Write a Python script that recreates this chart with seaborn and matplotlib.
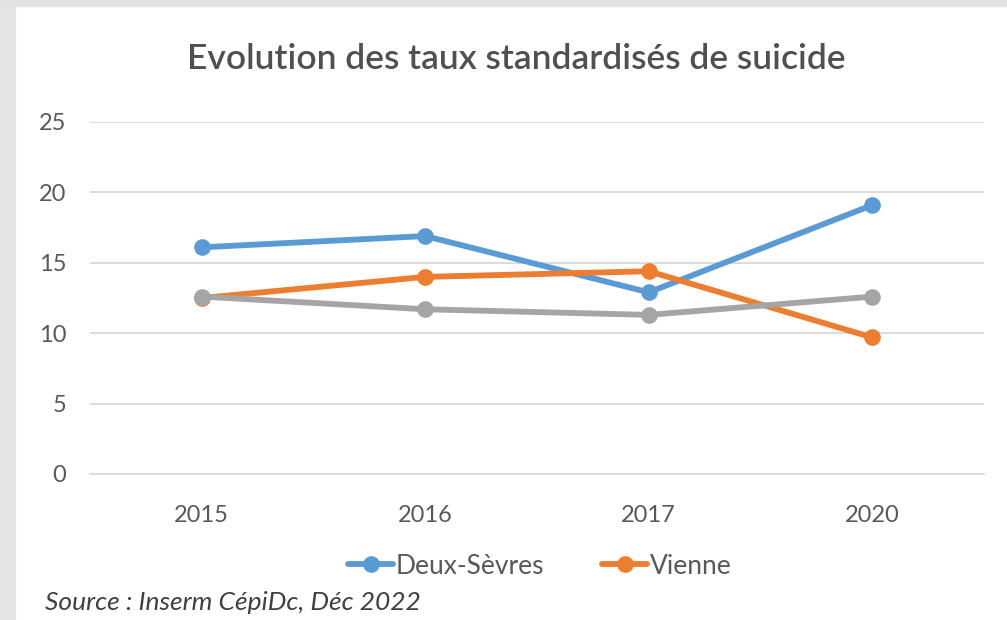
import matplotlib
matplotlib.use("Agg")
import matplotlib.pyplot as plt
import seaborn as sns
import pandas as pd
from matplotlib.lines import Line2D
from matplotlib.patches import Rectangle

years = ["2015", "2016", "2017", "2020"]
deux_sevres = [16.1, 16.9, 12.9, 19.1]
vienne = [12.5, 14.0, 14.4, 9.7]
france = [12.6, 11.7, 11.3, 12.6]
series_names = ["Deux-Sèvres", "Vienne", "France"]
colors = ["#5B9BD5", "#ED7D31", "#A5A5A5"]
yticks = [0, 5, 10, 15, 20, 25]

rows = []
for name, vals in zip(series_names, [deux_sevres, vienne, france]):
    for i, (y, v) in enumerate(zip(years, vals)):
        rows.append({"pos": i, "year": y, "value": v, "series": name})
df = pd.DataFrame(rows)

sns.set_theme(style="white")
plt.rcParams["font.family"] = ["Lato", "DejaVu Sans"]

fig = plt.figure(figsize=(10.07, 6.2), dpi=100)
fig.patch.set_facecolor("white")
# frame bands
fig.add_artist(Rectangle((0, 0), 15/1007, 1, transform=fig.transFigure, color="#e6e6e6", zorder=0))
fig.add_artist(Rectangle((0, 1-6/620), 1, 6/620, transform=fig.transFigure, color="#e3e3e3", zorder=0))

ax = fig.add_axes([90/1007, 1-474/620, (984-90)/1007, (474-122)/620])
sns.lineplot(data=df, x="pos", y="value", hue="series", hue_order=series_names,
             palette=colors, marker="o", markersize=12, markeredgewidth=0,
             linewidth=4.2, ax=ax, legend=False, zorder=3)
ax.set_xlim(-0.5, 3.5)
ax.set_ylim(0, 25)
ax.set_yticks(yticks)
ax.set_yticklabels([str(t) for t in yticks])
ax.set_xticks(range(len(years)))
ax.set_xticklabels(years)
ax.grid(axis="y", color="#d9d9d9", linewidth=1.3)
ax.grid(axis="x", visible=False)
for s in ax.spines.values():
    s.set_visible(False)
ax.spines["bottom"].set_visible(True)
ax.spines["bottom"].set_color("#d9d9d9")
ax.spines["bottom"].set_linewidth(1.3)
ax.tick_params(axis="both", length=0, labelsize=17, colors="#595959")
ax.tick_params(axis="y", pad=17)
ax.tick_params(axis="x", pad=22)
ax.set_xlabel("")
ax.set_ylabel("")

fig.text(516/1007, 1-59/620, "Evolution des taux standardisés de suicide",
         ha="center", va="center", fontsize=25.5, color="#505050", fontweight="semibold")

handles = [Line2D([0], [0], color=colors[0], lw=4.2, marker="o", markersize=12, markeredgewidth=0),
           Line2D([0], [0], color=colors[1], lw=4.2, marker="o", markersize=12, markeredgewidth=0)]
fig.legend(handles, series_names[:2], loc="center", bbox_to_anchor=(540/1007, 1-566/620),
           ncol=2, frameon=False, fontsize=19, labelcolor="#595959",
           handlelength=1.7, handletextpad=0.1, columnspacing=2.2)

fig.text(45/1007, 1-602/620, "Source : Inserm CépiDc, Déc 2022", ha="left", va="center",
         fontsize=19, style="italic", color="#404040")

fig.savefig("out.png", dpi=100)
